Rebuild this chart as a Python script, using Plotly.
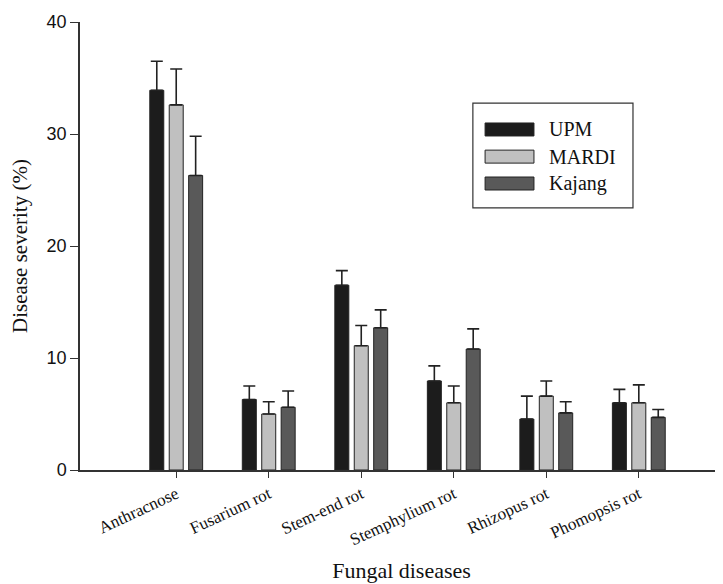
import plotly.graph_objects as go

categories = ["Anthracnose", "Fusarium rot", "Stem-end rot", "Stemphylium rot", "Rhizopus rot", "Phomopsis rot"]
series_names = ["UPM", "MARDI", "Kajang"]
upm = [33.9, 6.3, 16.5, 7.95, 4.55, 6.0]
upm_err = [2.6, 1.2, 1.3, 1.35, 2.05, 1.2]
mardi = [32.6, 5.0, 11.1, 6.0, 6.6, 6.0]
mardi_err = [3.2, 1.1, 1.8, 1.5, 1.35, 1.6]
kajang = [26.3, 5.6, 12.7, 10.8, 5.1, 4.7]
kajang_err = [3.5, 1.45, 1.6, 1.8, 1.0, 0.7]
y_ticks = [0, 10, 20, 30, 40]

fills = ["#1c1c1c", "#c0c0c0", "#595959"]
values = [upm, mardi, kajang]
errors = [upm_err, mardi_err, kajang_err]

fig = go.Figure()
x_idx = list(range(len(categories)))
for name, v, e, c in zip(series_names, values, errors, fills):
    fig.add_trace(go.Bar(
        x=x_idx, y=v, name=name, showlegend=False,
        marker=dict(color=c, line=dict(color="#222222", width=1)),
        error_y=dict(type="data", array=e, arrayminus=[0]*len(e), symmetric=False,
                     color="#222222", thickness=1.6, width=6),
    ))

# hand-drawn legend (box, swatches, labels) in paper coordinates
fig.add_shape(type="rect", xref="paper", yref="paper", x0=0.611, x1=0.860, y0=0.585, y1=0.819,
              line=dict(color="#333333", width=1.2), fillcolor="white", layer="above")
sw_top = [0.7746, 0.714, 0.654]
for name, c, top in zip(series_names, fills, sw_top):
    fig.add_shape(type="rect", xref="paper", yref="paper", x0=0.630, x1=0.706,
                  y0=top - 0.029, y1=top, fillcolor=c, line=dict(color="#222222", width=1),
                  layer="above")
    fig.add_annotation(xref="paper", yref="paper", x=0.726, y=top - 0.0145, text=name,
                       showarrow=False, xanchor="left", yanchor="middle",
                       font=dict(family="Liberation Serif", size=20, color="#111111"))

# page body has an 8px default margin: shrink figure and margins to compensate
fig.update_layout(
    width=715, height=576,
    margin=dict(l=72, r=0, t=14, b=114),
    paper_bgcolor="white", plot_bgcolor="white",
    barmode="group", bargap=0.37, bargroupgap=0.28,
    font=dict(family="Liberation Serif", color="#111111"),
    xaxis=dict(
        automargin=False,
        range=[-1.04, 5.91], tickmode="array", tickvals=x_idx, ticktext=categories,
        tickangle=-25, ticks="outside", ticklen=6, tickcolor="#333333",
        showline=True, linecolor="#333333", linewidth=1.5, showgrid=False, zeroline=False,
        tickfont=dict(family="Liberation Serif", size=17, color="#111111"),
        title=dict(text="Fungal diseases", font=dict(family="Liberation Serif", size=22), standoff=14),
    ),
    yaxis=dict(
        automargin=False,
        range=[0, 40], tickmode="array", tickvals=y_ticks,
        ticks="outside", ticklen=8, tickcolor="#333333",
        showline=True, linecolor="#333333", linewidth=1.5, showgrid=False, zeroline=False,
        tickfont=dict(family="Liberation Sans", size=18, color="#111111"),
        title=dict(text="Disease severity (%)", font=dict(family="Liberation Serif", size=21), standoff=14),
    ),
)

fig.write_html("out.html")
